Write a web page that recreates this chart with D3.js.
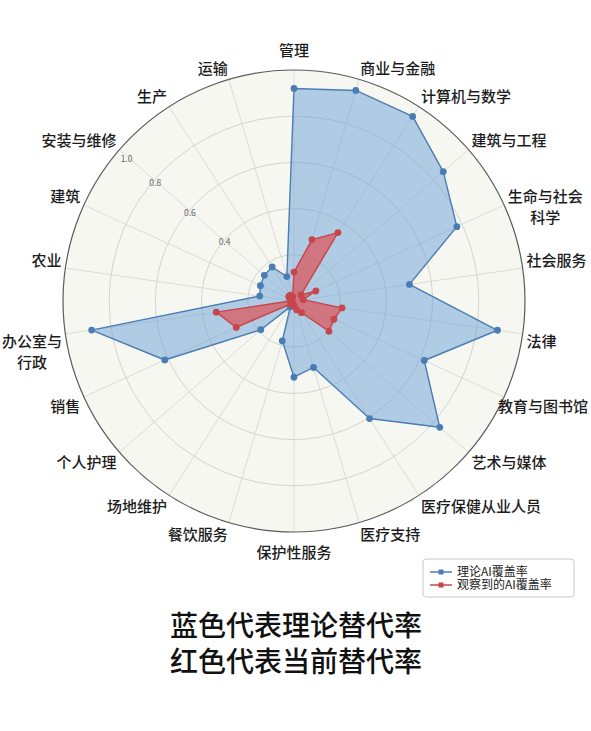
<!DOCTYPE html>
<html>
<head>
<meta charset="utf-8">
<script src="https://cdn.jsdelivr.net/npm/d3@7"></script>
<style>
  body { margin: 0; background: #fff; }
  svg text { font-family: 'Noto Sans CJK SC', 'Noto Sans', sans-serif; }
</style>
</head>
<body>
<svg id="chart"></svg>
<script>
// categories clockwise from the top
const categories = ['管理', '商业与金融', '计算机与数学', '建筑与工程', '生命与社会\n科学', '社会服务', '法律',
  '教育与图书馆', '艺术与媒体', '医疗保健从业人员', '医疗支持', '保护性服务', '餐饮服务', '场地维护',
  '个人护理', '销售', '办公室与\n行政', '农业', '建筑', '安装与维修', '生产', '运输'];

// theoretical AI coverage (blue)
const theoretical = [0.92, 0.95, 0.95, 0.855, 0.775, 0.505, 0.89, 0.62, 0.835, 0.605, 0.3, 0.33, 0.18, 0.03,
  0.19, 0.615, 0.885, 0.15, 0.16, 0.17, 0.175, 0.11];

// observed AI coverage (red)
const observed = [0.125, 0.277, 0.352, 0.04, 0.104, 0.04, 0.21, 0.19, 0.2, 0.06, 0.04, 0.02, 0.02, 0.01,
  0.02, 0.275, 0.34, 0.01, 0.02, 0.03, 0.03, 0.02];

const rings = [0.2, 0.4, 0.6, 0.8, 1.0];
const ringLabels = ['0.4', '0.6', '0.8', '1.0'];

const seriesNames = ['理论AI覆盖率', '观察到的AI覆盖率'];
const captions = ['蓝色代表理论替代率', '红色代表当前替代率'];

const width = 591, height = 731;
const cx = 294, cy = 301, R = 231;

const svg = d3.select('#chart').attr('width', width).attr('height', height);

const angle = d3.scaleLinear().domain([0, categories.length]).range([0, 2 * Math.PI]);
const r = d3.scaleLinear().domain([0, 1]).range([0, R]);

const g = svg.append('g').attr('transform', `translate(${cx},${cy})`);

// background disc
g.append('circle').attr('r', R).attr('fill', '#f7f7f2');

// rings
g.selectAll('circle.ring')
  .data(rings.slice(0, -1))
  .enter()
  .append('circle')
  .classed('ring', true)
  .attr('r', (d) => r(d))
  .attr('fill', 'none')
  .attr('stroke', '#cfcfca')
  .attr('stroke-width', 0.9);

// spokes
g.selectAll('line.spoke')
  .data(categories)
  .enter()
  .append('line')
  .classed('spoke', true)
  .attr('x1', 0)
  .attr('y1', 0)
  .attr('x2', (d, i) => r(1) * Math.sin(angle(i)))
  .attr('y2', (d, i) => -r(1) * Math.cos(angle(i)))
  .attr('stroke', '#d9d9d4')
  .attr('stroke-width', 0.9);

// radial tick labels along the 安装与维修 spoke
const labelAngle = angle(19) - 0.01;
g.selectAll('text.rtick')
  .data(ringLabels)
  .enter()
  .append('text')
  .classed('rtick', true)
  .attr('x', (d) => r(+d) * 0.985 * Math.sin(labelAngle) + (d === '1.0' ? 6 : 0))
  .attr('y', (d) => -r(+d) * 0.985 * Math.cos(labelAngle) + 3 + (d === '1.0' ? 5 : 0))
  .attr('text-anchor', 'middle')
  .attr('font-size', 8.5)
  .attr('fill', '#666')
  .text((d) => d);

const series = [
  { name: seriesNames[0], values: theoretical, line: '#4a7db3', fill: '#6a9fd6', opacity: 0.5 },
  { name: seriesNames[1], values: observed, line: '#c8454c', fill: '#e0484a', opacity: 0.65 },
];

const radar = d3
  .lineRadial()
  .angle((d, i) => angle(i))
  .radius((d) => r(d))
  .curve(d3.curveLinearClosed);

series.forEach((s) => {
  g.append('path')
    .attr('d', radar(s.values))
    .attr('fill', s.fill)
    .attr('fill-opacity', s.opacity)
    .attr('stroke', s.line)
    .attr('stroke-width', 1.4)
    .attr('stroke-linejoin', 'round');

  g.selectAll(null)
    .data(s.values)
    .enter()
    .append('circle')
    .attr('cx', (d, i) => r(d) * Math.sin(angle(i)))
    .attr('cy', (d, i) => -r(d) * Math.cos(angle(i)))
    .attr('r', 3.4)
    .attr('fill', s.line);
});

// frame
g.append('circle').attr('r', R).attr('fill', 'none').attr('stroke', '#5a5a5a').attr('stroke-width', 1.2);

// category labels: the corner of the first line nearest the centre sits on the spoke, just outside the frame
const fs = 15, lineGap = 21, labelR = R + 4;
g.selectAll('text.cat')
  .data(categories)
  .enter()
  .append('text')
  .classed('cat', true)
  .attr('font-size', fs)
  .attr('font-weight', 500)
  .attr('fill', '#1c1c1c')
  .attr('text-anchor', 'middle')
  .each(function (d, i) {
    const t = d3.select(this);
    const spans = d.split('\n').map((line, k) =>
      t.append('tspan').attr('dy', k === 0 ? 0 : lineGap).text(line)
    );
    const w = spans[0].node().getComputedTextLength();
    const a = angle(i);
    const sx = Math.abs(Math.sin(a)) < 0.01 ? 0 : Math.sign(Math.sin(a));
    const dist = sx === 0 ? labelR + 9 : labelR;
    const px = dist * Math.sin(a), py = -dist * Math.cos(a);
    let left = sx > 0 ? px : sx < 0 ? px - w : px - w / 2;
    left = Math.min(left, width - cx - 3 - w);
    left = Math.max(left, -cx + 2);
    const baseline = Math.cos(a) > 0 ? py - 0.1 * fs : py + 0.87 * fs;
    spans.forEach((s) => s.attr('x', left + w / 2));
    t.attr('y', baseline);
    spans[0].attr('y', baseline);
  });

// legend
const legend = svg.append('g').attr('transform', 'translate(423,559)');
legend
  .append('rect')
  .attr('width', 151)
  .attr('height', 38)
  .attr('rx', 3)
  .attr('fill', '#fff')
  .attr('stroke', '#c8c8c8');

const item = legend
  .selectAll('g.item')
  .data(series)
  .enter()
  .append('g')
  .classed('item', true)
  .attr('transform', (d, i) => `translate(7,${13 + i * 13})`);

item.append('line').attr('x1', 0).attr('x2', 22).attr('stroke', (d) => d.line).attr('stroke-width', 1.5);
item
  .append('rect')
  .attr('x', 8.5)
  .attr('y', -2.5)
  .attr('width', 5)
  .attr('height', 5)
  .attr('fill', (d) => d.line);
item
  .append('text')
  .attr('x', 27)
  .attr('y', 4.2)
  .attr('font-size', 12)
  .attr('fill', '#222')
  .text((d) => d.name);

// captions
svg
  .selectAll('text.caption')
  .data(captions)
  .enter()
  .append('text')
  .classed('caption', true)
  .attr('x', 296)
  .attr('y', (d, i) => 636 + i * 36)
  .attr('text-anchor', 'middle')
  .attr('font-size', 28)
  .attr('font-weight', 500)
  .attr('fill', '#111')
  .text((d) => d);
</script>
</body>
</html>
